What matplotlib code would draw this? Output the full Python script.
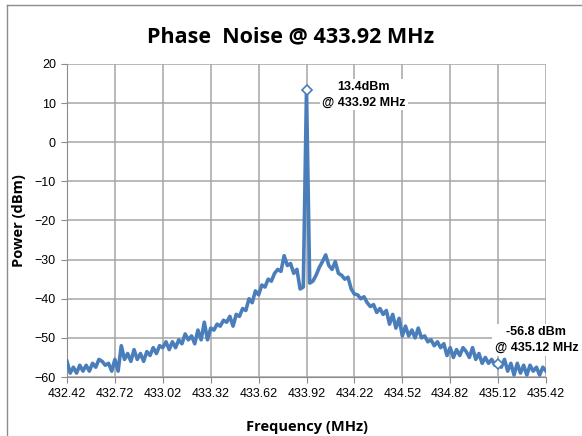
import numpy as np
import matplotlib
matplotlib.use("Agg")
import matplotlib.pyplot as plt
from matplotlib.lines import Line2D

# data (MHz, dBm), 0.02 MHz steps
f_start = 432.42
f_step = 0.02
power = [
    -56, -59, -57.5, -59, -57, -58.5, -57, -58.5, -56.5, -57.5,
    -55.5, -56, -57, -56.5, -58.5, -55.5, -58.5, -52, -55.5, -54,
    -56, -53, -55.5, -54, -56, -53.5, -54.5, -52.5, -54, -52,
    -52.5, -51, -53, -51, -52.5, -50.5, -51.5, -49, -50.5, -49.5,
    -51.5, -48, -50.5, -46, -50.5, -47.5, -48, -46.5, -47, -45.5,
    -46, -44.5, -47, -44, -44.5, -42.5, -43, -40, -41, -38,
    -39, -36.5, -37, -35, -35.5, -33.5, -32.5, -33, -29, -31.5,
    -31, -33.5, -32.5, -37.5, -37, 13.4, -36, -35.5, -34, -32,
    -30.5, -28.8, -31.5, -32.5, -30.5, -33.5, -34, -35, -34.5, -37.5,
    -38.8, -39, -40, -39.5, -41, -42, -41.5, -43.5, -42.5, -44,
    -43, -46.5, -44, -47.5, -45, -49.5, -47, -49.5, -48, -50,
    -47.5, -50, -49.5, -51, -50.5, -52, -51, -52.5, -51.5, -54.5,
    -52.5, -55, -53, -54.5, -52.5, -53.5, -55, -52.5, -55.5, -54,
    -56.5, -55, -56.5, -55.5, -57, -56.8, -57.5, -55.5, -58.5, -56.5,
    -59.5, -56.5, -59, -57, -59.5, -57, -58.5, -57.5, -59.5, -57.5,
    -58.5,
]
freq = np.round(f_start + f_step * np.arange(len(power)), 2)

x_ticks = [432.42, 432.72, 433.02, 433.32, 433.62, 433.92, 434.22, 434.52, 434.82, 435.12, 435.42]
y_ticks = [-60, -50, -40, -30, -20, -10, 0, 10, 20]

peak_f, peak_p = 433.92, 13.4
mark_f, mark_p = 435.12, -56.8

fig = plt.figure(figsize=(5.82, 4.36), dpi=100)
ax = fig.add_axes([67/582, 1-377/436, (546-67)/582, (377-64)/436])

ax.plot(freq, power, color="#4a7ebb", lw=2.6, zorder=3)
ax.plot([peak_f, mark_f], [peak_p, mark_p], ls="none", marker="D", ms=5,
        mfc="white", mec="#4a7ebb", mew=1.2, zorder=4)

ax.set_xlim(432.42, 435.42)
ax.set_ylim(-60, 20)
ax.set_xticks(x_ticks)
ax.set_xticklabels(["%.2f" % v for v in x_ticks])
ax.set_yticks(y_ticks)
ax.grid(True, color="#a6a6a6", lw=1.1, zorder=0)
ax.set_axisbelow(True)
for s in ["top", "right"]:
    ax.spines[s].set_visible(False)
for s in ["left", "bottom"]:
    ax.spines[s].set_color("#8c8c8c")
ax.tick_params(axis="both", length=4, color="#8c8c8c", labelsize=9, pad=4)
for lab in ax.get_xticklabels() + ax.get_yticklabels():
    lab.set_family("Liberation Sans")

ax.set_xlabel("Frequency (MHz)", family="Open Sans", weight="bold", fontsize=10.5, labelpad=14)
ax.set_ylabel("Power (dBm)", family="Open Sans", weight="bold", fontsize=10.5, labelpad=6)
fig.text(0.5, 1-37/436, "Phase  Noise @ 433.92 MHz", ha="center", va="center",
         family="Open Sans", weight="bold", fontsize=15.5)

box = dict(facecolor="white", edgecolor="none", pad=1.5)
ax.text(433.92 + 0.36, 12.2, "13.4dBm\n@ 433.92 MHz", ha="center", va="center",
        family="Liberation Sans", weight="bold", fontsize=9, linespacing=1.4, bbox=box, zorder=5)
ax.text(435.12 + 0.24, -50.6, "-56.8 dBm\n@ 435.12 MHz", ha="center", va="center",
        family="Liberation Sans", weight="bold", fontsize=9, linespacing=1.4, bbox=box, zorder=5)

# outer chart frame
fig.add_artist(Line2D([7/582, 7/582], [0, 1-5/436], color="#8c8c8c", lw=1, transform=fig.transFigure))
fig.add_artist(Line2D([7/582, 1], [1-5/436, 1-5/436], color="#8c8c8c", lw=1, transform=fig.transFigure))

fig.savefig("out.png", dpi=100)
